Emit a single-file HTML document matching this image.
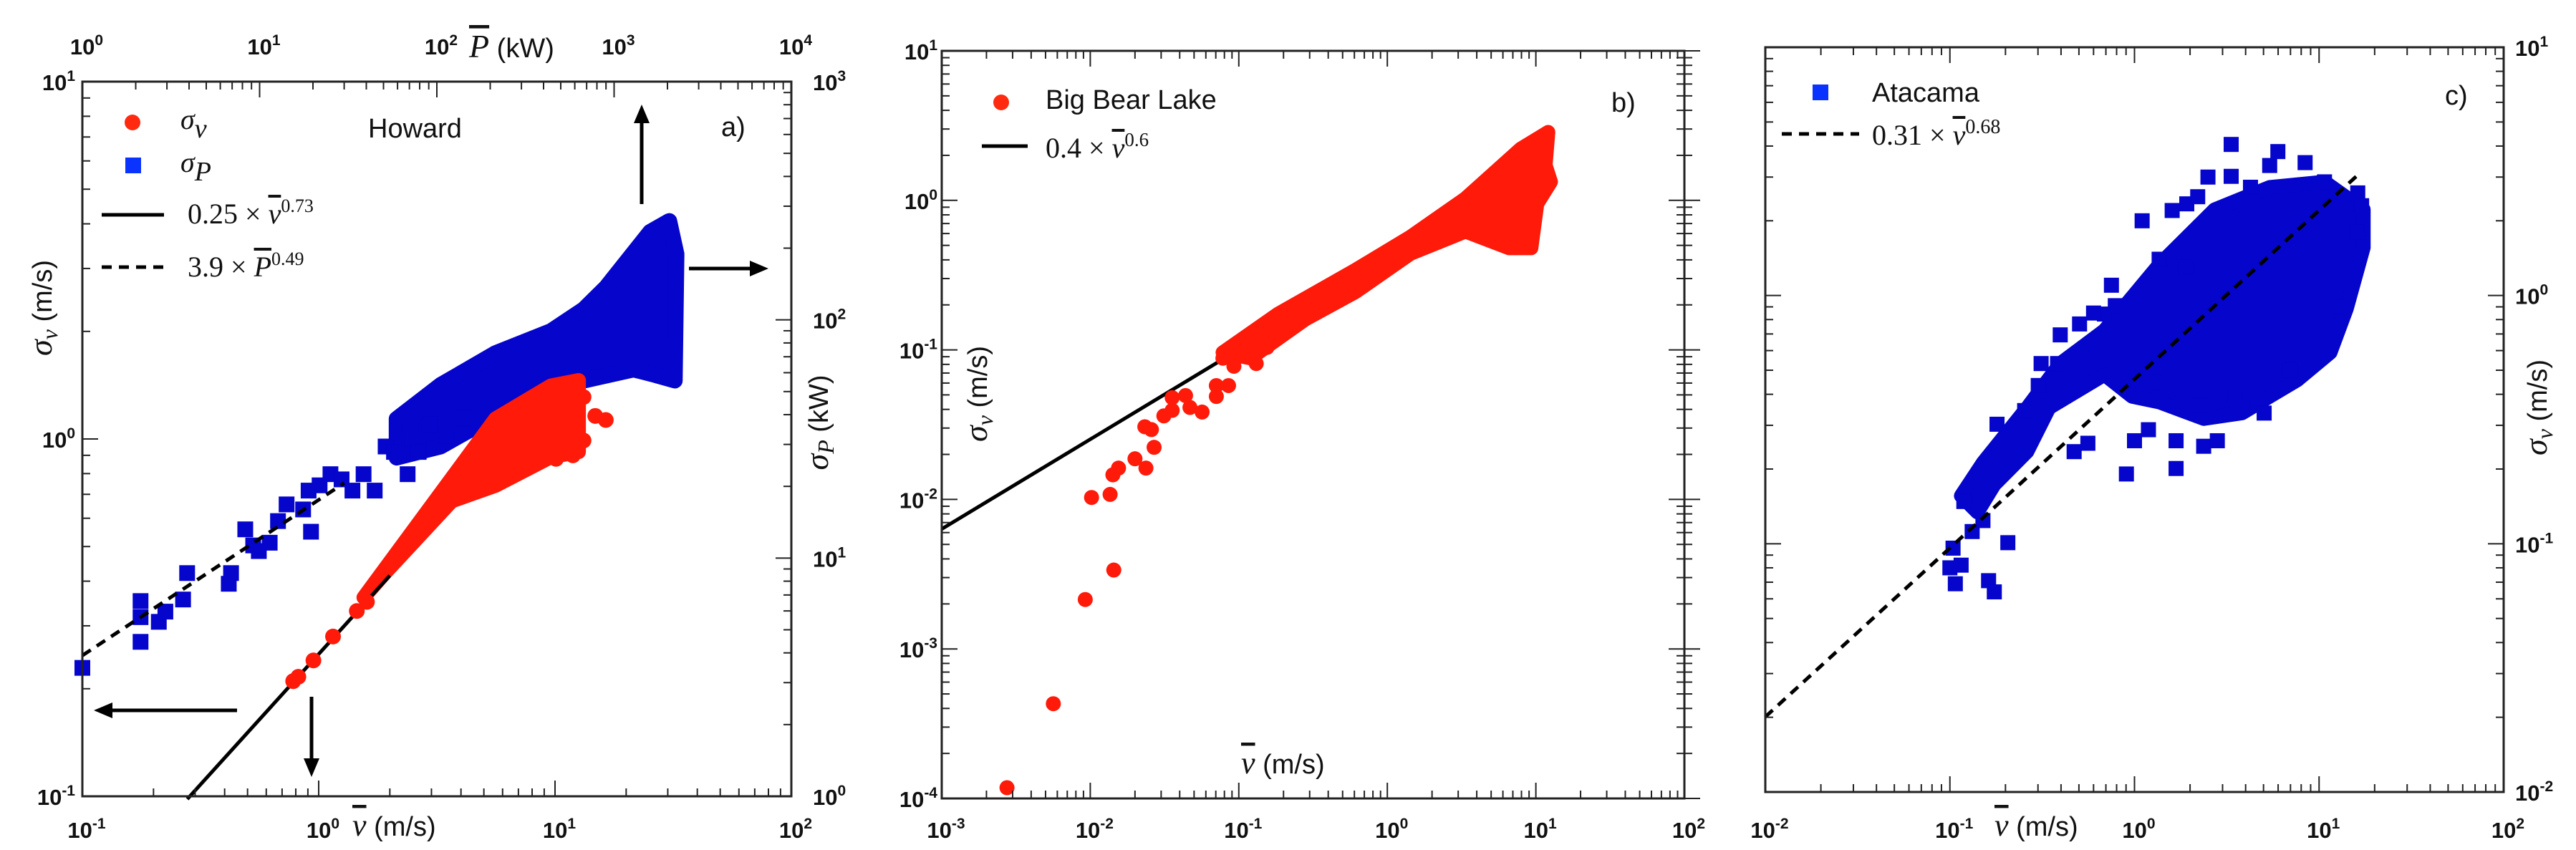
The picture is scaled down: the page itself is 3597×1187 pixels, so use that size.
<!DOCTYPE html>
<html><head><meta charset="utf-8">
<style>
html,body{margin:0;padding:0;background:#fff;}
svg{display:block;}
.tk{font-family:"Liberation Sans",sans-serif;font-weight:bold;font-size:31px;fill:#111;}
.lab{font-family:"Liberation Sans",sans-serif;font-size:38px;fill:#111;}
.ser{font-family:"Liberation Serif",serif;font-size:40px;fill:#111;}
</style></head>
<body>
<svg id="fig" xmlns="http://www.w3.org/2000/svg" width="3597" height="1187" viewBox="0 0 3597 1187">
<rect width="3597" height="1187" fill="#fff"/>
</svg>
<script>
// ---------- Panel a data (Howard) ----------
const aRedX = [0.78,0.82,0.95,1.15,1.45,1.6,14.8,16.4,13.2,11.9,10.1,13.2];
const aRedY = [0.21,0.216,0.24,0.28,0.33,0.35,1.16,1.13,0.99,0.90,0.88,1.31];
const aRedCloudX = [1.55,5.6,9.6,12.6,12.6,9.6,5.6,3.66,1.9];
const aRedCloudY = [0.36,1.14,1.41,1.46,0.92,0.89,0.74,0.67,0.42];
const aBlueP = [1.0,2.13,2.13,2.13,2.7,2.94,3.7,3.9,6.7,6.9,8.3,9.2,9.9,11.4,12.7,14.2,17.6,19.5,18.9,21.8,25.1,29,33.4,38.6,44.6,51.4,57.3,68.4,71,79,91,113,140];
const aBlueS = [3.46,4.45,6.6,5.65,5.4,5.96,6.7,8.65,7.8,8.65,13.2,11.3,10.7,11.6,14.3,16.8,16,12.9,19.2,20.2,22.5,21.4,19.2,22.5,19.2,29.4,27.9,22.5,34.5,27.9,36.4,32.7,38.4];
const aBlueCloudP = [59.3,105,215,440,676,900,1596,2048,2250,2200,1714,1288,676,330,174,105,59.3];
const aBlueCloudS = [38.4,53.3,72.6,89.7,111,137,234,260,189,55.6,58.6,61.9,55.6,47.4,36.3,29.4,26.4];
const aFitV = [0.25,0.73], aFitVRange=[0.278,2.0];
const aFitP = [3.9,0.49], aFitPRange=[1.0,30];
// ---------- Panel b data (Big Bear Lake) ----------
const bX = [0.00275,0.00564,0.00925,0.0144,0.0102,0.0136,0.0142,0.0155,0.02,0.0237,0.0233,0.0258,0.0269,0.0313,0.0356,0.0356,0.0438,0.0469,0.0566,0.0706,0.0706,0.0782,0.0927,0.101,0.0853,0.131,0.155];
const bY = [1.18e-4,4.3e-4,0.00214,0.00337,0.0103,0.0108,0.0146,0.0162,0.0187,0.0162,0.0306,0.0293,0.0223,0.0362,0.0479,0.0394,0.0495,0.0412,0.0384,0.0488,0.0577,0.088,0.0777,0.096,0.0577,0.081,0.104];
const bCloudX = [0.078,0.184,0.61,1.43,3.36,7.9,12.1,11.6,12.6,10.2,9.3,6.6,3.36,1.43,0.61,0.28,0.12];
const bCloudY = [0.096,0.174,0.342,0.57,1.03,2.21,2.86,1.72,1.33,0.95,0.48,0.48,0.62,0.44,0.244,0.16,0.088];
const bFit = [0.4,0.6], bFitRange=[0.001,12];
// ---------- Panel c data (Atacama) ----------
const cX = [0.1,0.107,0.115,0.162,0.174,0.206,0.104,0.132,0.151,0.119,0.18,0.254,0.254,0.301,0.312,0.383,0.396,0.504,0.471,0.559,0.687,0.787,0.904,1.0,1.19,1.36,1.68,1.68,1.92,2.37,2.81,3.34,4.25,5.4,5.98,8.4,10.7,16.2,5.04,3.83,3.34,1.1,1.6,2.2,2.5,0.75,0.6,1.9,1.3,2.3,3.5,7,13,16,17];
const cY = [0.080,0.069,0.082,0.071,0.064,0.101,0.096,0.112,0.124,0.148,0.303,0.281,0.344,0.434,0.532,0.532,0.694,0.768,0.235,0.254,0.842,0.91,0.191,0.26,0.288,1.40,0.201,0.26,2.34,0.247,0.26,3.02,2.73,3.34,3.8,3.43,2.87,2.59,0.336,0.372,4.06,2.0,2.2,2.5,3.0,1.1,0.85,1.3,0.45,0.36,0.4,0.5,0.9,1.8,2.3];
const cCloudX = [0.687,1.36,2.72,5.4,10.7,17.4,17.4,14.1,11.5,7.6,5.4,3.83,2.37,1.36,0.97,0.687,0.345,0.262,0.174,0.141,0.115,0.151,0.262,0.396];
const cCloudY = [0.723,1.33,2.22,2.73,2.87,2.22,1.56,0.886,0.589,0.456,0.392,0.336,0.319,0.372,0.392,0.48,0.353,0.235,0.173,0.134,0.156,0.212,0.353,0.532];
const cFit = [0.46,0.68], cFitRange=[0.01,16.8];

const NS="http://www.w3.org/2000/svg";
const svg=document.getElementById('fig');
function mk(tag,attrs,parent){const e=document.createElementNS(NS,tag);for(const k in attrs)e.setAttribute(k,attrs[k]);(parent||svg).appendChild(e);return e;}
function scale(lo,hi,p0,p1){return v=>p0+(Math.log10(v)-lo)/(hi-lo)*(p1-p0);}
function pow10Label(g,x,y,exp,anchor,name){
  const t=mk('text',{x:x,y:y,'text-anchor':anchor,class:'tk'},g);
  
  
  t.appendChild(document.createTextNode('10'));
  const s=mk('tspan',{dy:-13,'font-size':21},t);s.textContent=String(exp);
  return t;
}
function ticks(g,side,lo,hi,sc,fixed,dir){
  for(let d=lo;d<=hi;d++){
    for(let m=1;m<=9;m++){
      if(d===hi&&m>1)break;
      const p=sc(m*Math.pow(10,d));const len=m===1?22:11;
      if(side==='h')mk('line',{x1:p,x2:p,y1:fixed,y2:fixed+dir*len,stroke:'#222','stroke-width':2},g);
      else mk('line',{y1:p,y2:p,x1:fixed,x2:fixed+dir*len,stroke:'#222','stroke-width':2},g);
    }
  }
}
function frame(g,L,T,R,B){const r=mk('rect',{x:L,y:T,width:R-L,height:B-T,fill:'none',stroke:'#222','stroke-width':3},g);}
function polyPts(xs,ys,sx,sy){return xs.map((v,i)=>sx(v)+','+sy(ys[i])).join(' ');}
function fitLine(g,coef,range,sx,sy,dash,name){
  const x0=range[0],x1=range[1];
  const l=mk('line',{x1:sx(x0),y1:sy(coef[0]*Math.pow(x0,coef[1])),x2:sx(x1),y2:sy(coef[0]*Math.pow(x1,coef[1])),stroke:'#000','stroke-width':5,'stroke-dasharray':dash||'none'},g);
  
}
function arrow(g,x1,y1,x2,y2,name){
  const a=mk('g',{},g);
  const ang=Math.atan2(y2-y1,x2-x1),h=26,w=11;
  const bx=x2-h*Math.cos(ang),by=y2-h*Math.sin(ang);
  mk('line',{x1:x1,y1:y1,x2:bx,y2:by,stroke:'#000','stroke-width':5},a);
  mk('polygon',{points:`${x2},${y2} ${bx-w*Math.sin(ang)},${by+w*Math.cos(ang)} ${bx+w*Math.sin(ang)},${by-w*Math.cos(ang)}`,fill:'#000'},a);
}
const RED='#ff1a0a',BLUE='#0505cc';

// ================= Panel a =================
(function(){
 const L=115,T=114,R=1105,B=1112;
 const g=mk('g',{});
 const sx=scale(-1,2,L,R), sy=scale(-1,1,B,T);
 const sP=scale(0,4,L,R), sS=scale(0,3,B,T);
 const bc=mk('polygon',{points:polyPts(aBlueCloudP,aBlueCloudS,sP,sS),fill:BLUE,stroke:BLUE,'stroke-width':22,'stroke-linejoin':'round'},g);
 
 aBlueP.forEach((p,i)=>{const r=mk('rect',{x:sP(p)-11,y:sS(aBlueS[i])-11,width:22,height:22,fill:BLUE},g);
  });
 fitLine(g,aFitP,aFitPRange,sP,sS,'14 10','fit-line-power');
 const rc=mk('polygon',{points:polyPts(aRedCloudX,aRedCloudY,sx,sy),fill:RED,stroke:RED,'stroke-width':20,'stroke-linejoin':'round'},g);
 
 fitLine(g,aFitV,aFitVRange,sx,sy,null,'fit-line-velocity');
 aRedX.forEach((v,i)=>{const c=mk('circle',{cx:sx(v),cy:sy(aRedY[i]),r:11,fill:RED},g);
  });
 frame(g,L,T,R,B);
 ticks(g,'h',-1,2,sx,B,-1);ticks(g,'v',-1,1,sy,L,1);
 ticks(g,'h',0,4,sP,T,1);ticks(g,'v',0,3,sS,R,-1);
 for(let d=-1;d<=2;d++)pow10Label(g,sx(Math.pow(10,d))+6,1170,d,'middle','x-tick-label');
 for(let d=-1;d<=1;d++)pow10Label(g,L-10,sy(Math.pow(10,d))+12,d,'end','y-tick-label');
 for(let d=0;d<=4;d++)pow10Label(g,sP(Math.pow(10,d))+6,76,d,'middle','top-x-tick-label');
 for(let d=0;d<=3;d++)pow10Label(g,R+30,sS(Math.pow(10,d))+12,d,'start','right-y-tick-label');
 let t=mk('text',{x:492,y:1167,class:'lab'},g);
 t.innerHTML='<tspan font-family="Liberation Serif" font-style="italic" font-size="44" text-decoration="overline">v</tspan>  (m/s)';
 t=mk('text',{x:655,y:80,class:'lab'},g);
 t.innerHTML='<tspan font-family="Liberation Serif" font-style="italic" font-size="46" text-decoration="overline">P</tspan> (kW)';
 t=mk('text',{x:0,y:0,class:'lab',transform:'translate(72,430) rotate(-90)','text-anchor':'middle'},g);
 t.innerHTML='<tspan font-family="Liberation Serif" font-style="italic" font-size="46">σ</tspan><tspan font-family="Liberation Serif" font-style="italic" font-size="32" dy="8">v</tspan><tspan dy="-8"> (m/s)</tspan>';
 t=mk('text',{x:0,y:0,class:'lab',transform:'translate(1156,590) rotate(-90)','text-anchor':'middle'},g);
 t.innerHTML='<tspan font-family="Liberation Serif" font-style="italic" font-size="46">σ</tspan><tspan font-family="Liberation Serif" font-style="italic" font-size="32" dy="8">P</tspan><tspan dy="-8"> (kW)</tspan>';
 const lg=mk('g',{},g);
 mk('circle',{cx:185,cy:171,r:11,fill:'#ff2a10'},lg);
 t=mk('text',{x:252,y:180,class:'ser','font-style':'italic','font-size':52},lg);t.innerHTML='σ<tspan font-size="38" dy="12">v</tspan>';
 mk('rect',{x:175,y:220,width:22,height:22,fill:'#0a33ff'},lg);
 t=mk('text',{x:252,y:240,class:'ser','font-style':'italic','font-size':52},lg);t.innerHTML='σ<tspan font-size="38" dy="12">P</tspan>';
 mk('line',{x1:142,x2:229,y1:300,y2:300,stroke:'#000','stroke-width':5},lg);
 t=mk('text',{x:262,y:312,class:'ser','font-size':36},lg);t.innerHTML='0.25 × <tspan font-style="italic" text-decoration="overline">v</tspan><tspan font-size="26" dy="-16">0.73</tspan>';
 mk('line',{x1:142,x2:229,y1:373,y2:373,stroke:'#000','stroke-width':5,'stroke-dasharray':'14 10'},lg);
 t=mk('text',{x:262,y:386,class:'ser','font-size':36},lg);t.innerHTML='3.9 × <tspan font-style="italic" text-decoration="overline">P</tspan><tspan font-size="26" dy="-16">0.49</tspan>';
 t=mk('text',{x:514,y:192,class:'lab','font-size':48},g);t.textContent='Howard';
 t=mk('text',{x:1007,y:190,class:'lab','font-size':56},g);t.textContent='a)';
 arrow(g,331,992,131,992,'arrow-left-axis');
 arrow(g,435,973,435,1085,'arrow-bottom-axis');
 arrow(g,896,285,896,146,'arrow-top-axis');
 arrow(g,962,375,1073,375,'arrow-right-axis');
})();

// ================= Panel b =================
(function(){
 const L=1315,T=71,R=2352,B=1115;
 const g=mk('g',{});
 const sx=scale(-3,2,L,R), sy=scale(-4,1,B,T);
 fitLine(g,bFit,bFitRange,sx,sy,null,'fit-line');
 const rc=mk('polygon',{points:polyPts(bCloudX,bCloudY,sx,sy),fill:RED,stroke:RED,'stroke-width':20,'stroke-linejoin':'round'},g);
 
 bX.forEach((v,i)=>{const c=mk('circle',{cx:sx(v),cy:sy(bY[i]),r:10.5,fill:RED},g);
  });
 frame(g,L,T,R,B);
 ticks(g,'h',-3,2,sx,B,-1);ticks(g,'h',-3,2,sx,T,1);ticks(g,'v',-4,1,sy,L,1);ticks(g,'v',-4,1,sy,R,-1);ticks(g,'v',-4,1,sy,R,1);
 for(let d=-3;d<=2;d++)pow10Label(g,sx(Math.pow(10,d))+6,1170,d,'middle','x-tick-label');
 for(let d=-4;d<=1;d++)pow10Label(g,L-6,sy(Math.pow(10,d))+12,d,'end','y-tick-label');
 let t=mk('text',{x:1733,y:1080,class:'lab'},g);
 t.innerHTML='<tspan font-family="Liberation Serif" font-style="italic" font-size="44" text-decoration="overline">v</tspan> (m/s)';
 t=mk('text',{x:0,y:0,class:'lab',transform:'translate(1378,550) rotate(-90)','text-anchor':'middle'},g);
 t.innerHTML='<tspan font-family="Liberation Serif" font-style="italic" font-size="46">σ</tspan><tspan font-family="Liberation Serif" font-style="italic" font-size="32" dy="8">v</tspan><tspan dy="-8"> (m/s)</tspan>';
 const lg=mk('g',{},g);
 mk('circle',{cx:1398,cy:143,r:11,fill:'#ff2a10'},lg);
 t=mk('text',{x:1460,y:152,class:'lab','font-size':36},lg);t.textContent='Big Bear Lake';
 mk('line',{x1:1371,x2:1435,y1:204,y2:204,stroke:'#000','stroke-width':5},lg);
 t=mk('text',{x:1460,y:220,class:'ser','font-size':38},lg);t.innerHTML='0.4 × <tspan font-style="italic" text-decoration="overline">v</tspan><tspan font-size="27" dy="-16">0.6</tspan>';
 t=mk('text',{x:2250,y:156,class:'lab','font-size':56},g);t.textContent='b)';
})();

// ================= Panel c =================
(function(){
 const L=2465,T=66,R=3496,B=1106;
 const g=mk('g',{});
 const sx=scale(-2,2,L,R), sy=scale(-2,1,B,T);
 const bc=mk('polygon',{points:polyPts(cCloudX,cCloudY,sx,sy),fill:BLUE,stroke:BLUE,'stroke-width':20,'stroke-linejoin':'round'},g);
 
 cX.forEach((v,i)=>{const r=mk('rect',{x:sx(v)-10.5,y:sy(cY[i])-10.5,width:21,height:21,fill:BLUE},g);
  });
 fitLine(g,cFit,cFitRange,sx,sy,'14 10','fit-line');
 frame(g,L,T,R,B);
 ticks(g,'h',-2,2,sx,B,-1);ticks(g,'h',-2,2,sx,T,1);ticks(g,'v',-2,1,sy,L,1);ticks(g,'v',-2,1,sy,R,-1);
 for(let d=-2;d<=2;d++)pow10Label(g,sx(Math.pow(10,d))+6,1170,d,'middle','x-tick-label');
 for(let d=-2;d<=1;d++)pow10Label(g,R+16,sy(Math.pow(10,d))+12,d,'start','y-tick-label');
 let t=mk('text',{x:2785,y:1167,class:'lab'},g);
 t.innerHTML='<tspan font-family="Liberation Serif" font-style="italic" font-size="44" text-decoration="overline">v</tspan> (m/s)';
 t=mk('text',{x:0,y:0,class:'lab',transform:'translate(3556,569) rotate(-90)','text-anchor':'middle'},g);
 t.innerHTML='<tspan font-family="Liberation Serif" font-style="italic" font-size="46">σ</tspan><tspan font-family="Liberation Serif" font-style="italic" font-size="32" dy="8">v</tspan><tspan dy="-8"> (m/s)</tspan>';
 const lg=mk('g',{},g);
 mk('rect',{x:2531,y:118,width:22,height:22,fill:'#0a33ff'},lg);
 t=mk('text',{x:2614,y:142,class:'lab','font-size':38},lg);t.textContent='Atacama';
 mk('line',{x1:2488,x2:2596,y1:187,y2:187,stroke:'#000','stroke-width':5,'stroke-dasharray':'14 10'},lg);
 t=mk('text',{x:2614,y:202,class:'ser','font-size':40},lg);t.innerHTML='0.31 × <tspan font-style="italic" text-decoration="overline">v</tspan><tspan font-size="28" dy="-16">0.68</tspan>';
 t=mk('text',{x:3414,y:146,class:'lab','font-size':56},g);t.textContent='c)';
})();
</script>
</body></html>
